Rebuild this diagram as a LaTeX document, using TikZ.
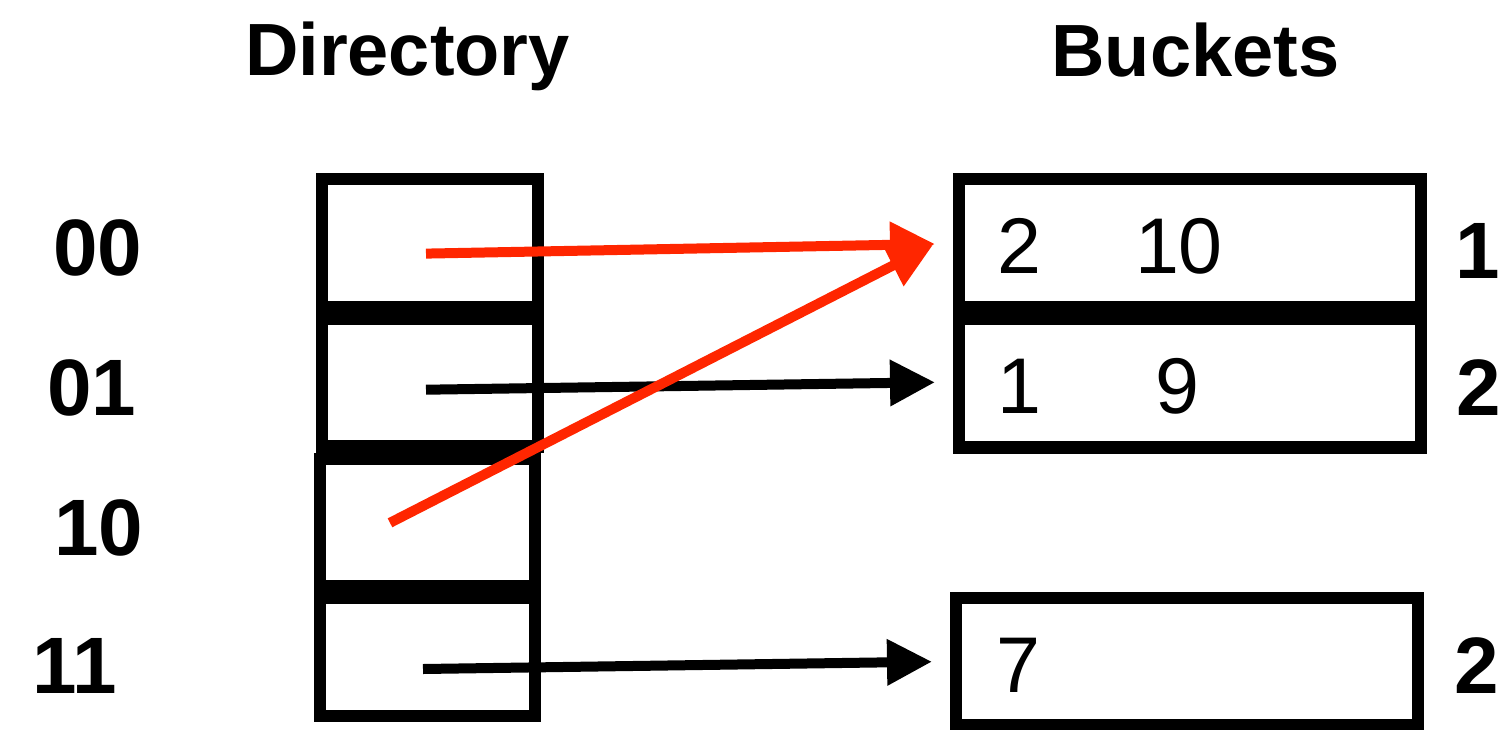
\documentclass[tikz,border=0pt]{standalone}
\usepackage{fontspec}
\setmainfont{Liberation Sans}
\usetikzlibrary{arrows.meta}
\definecolor{hred}{RGB}{255,38,0}
\begin{document}
\begin{tikzpicture}[x=0.5pt,y=-0.5pt,
  box/.style={draw,line width=6.25pt,inner sep=0pt,outer sep=0pt,fill=none},
  head/.style={font=\fontsize{37pt}{40pt}\selectfont\bfseries,anchor=base,inner sep=0pt},
  rowlab/.style={font=\fontsize{40pt}{44pt}\selectfont\bfseries,anchor=base,inner sep=0pt},
  val/.style={font=\fontsize{39.5pt}{44pt}\selectfont,anchor=base,inner sep=0pt},
  arr/.style={line width=5pt,-{Triangle[length=22.5pt,width=22pt]}},
  redarr/.style={arr,draw=hred,fill=hred}]
\useasboundingbox (0,0) rectangle (1511,729);

% headers
\node[head] (hdir) at (407.5,75) {Directory};
\node[head] (hbuck) at (1195.5,76) {Buckets};

% row labels
\node[rowlab] (l0) at (97.5,275) {00};
\node[rowlab] (l1) at (92,415) {01};
\node[rowlab] (l2) at (99,555) {10};
\node[rowlab] (l3) at (75,693) {11};

% directory boxes
\node[box,minimum width=108pt,minimum height=64pt] (d0) at (430,243) {};
\node[box,minimum width=108pt,minimum height=63.8pt] (d1) at (430,382.8) {};
\node[box,minimum width=107.5pt,minimum height=63.5pt] (d2) at (427.5,522.5) {};
\node[box,minimum width=107.5pt,minimum height=59pt] (d3) at (427.5,657) {};

% buckets
\node[box,minimum width=231pt,minimum height=64pt] (b0) at (1190,243) {};
\node[box,minimum width=231pt,minimum height=64.25pt] (b1) at (1190,383.25) {};
\node[box,minimum width=231pt,minimum height=63.75pt] (b2) at (1187,661.75) {};

% bucket contents
\node[val] (v00) at (1019.5,273.3) {2};
\node[val] (v01) at (1179,273.3) {10};
\node[val] (v10) at (1019,413.3) {1};
\node[val] (v11) at (1177,413.3) {9};
\node[val] (v20) at (1018,692.7) {7};

% local depths
\node[rowlab] (k0) at (1478,278.3) {1};
\node[rowlab] (k1) at (1479,415) {2};
\node[rowlab] (k2) at (1476.5,693) {2};

% pointer coordinates
\coordinate (s0) at (426,253.6);
\coordinate (t0) at (935,244);
\coordinate (s1) at (426,389.7);
\coordinate (t1) at (935,382.3);
\coordinate (s2) at (390,522.8);
\coordinate (t2) at (933,245);
\coordinate (s3) at (423,669);
\coordinate (t3) at (932,661.7);

% pointers
\draw[arr] (s1) -- (t1);
\draw[arr] (s3) -- (t3);
\draw[redarr] (s2) -- (t2);
\draw[redarr] (s0) -- (t0);
\end{tikzpicture}
\end{document}
